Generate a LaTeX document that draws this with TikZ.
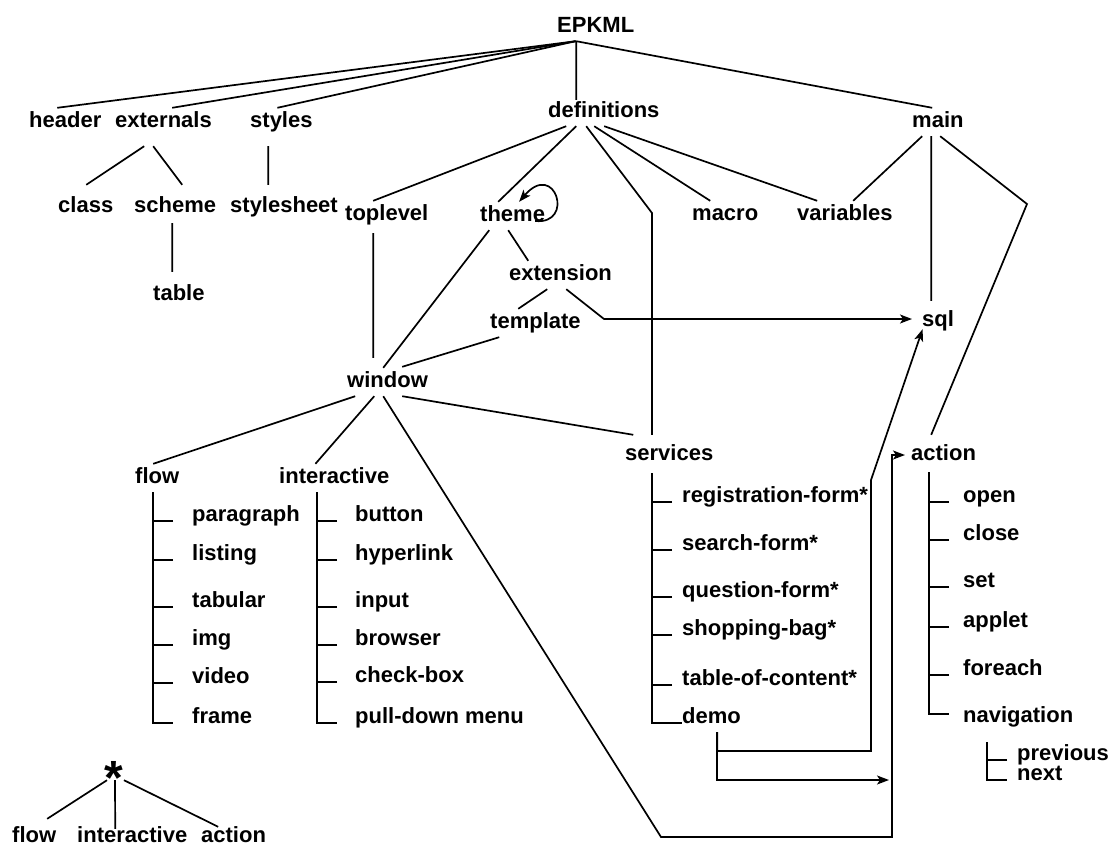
\documentclass[tikz,border=0pt]{standalone}
\usepackage{fontspec}
\setmainfont{Liberation Sans}
\usetikzlibrary{arrows.meta,calc}
\begin{document}
\begin{tikzpicture}[x=1pt,y=-1pt,
  lbl/.style={font=\fontsize{22}{26}\selectfont\bfseries, inner xsep=0pt, inner ysep=3pt, text height=16pt, text depth=6pt, anchor=base west},
  lblB/.style={lbl, text depth=1pt},
  ln/.style={line width=1.7pt},
  arr/.style={ln, -{Stealth[length=12pt,width=9pt,inset=3pt]}},
  starlbl/.style={font=\fontsize{48}{52}\selectfont\bfseries, inner sep=0pt, anchor=base}]
\useasboundingbox (0,0) rectangle (1114,846);

% ---------- nodes ----------
\node[lbl] (epkml) at (557,32) {EPKML};
\node[lbl] (header) at (29,127) {header};
\node[lbl] (externals) at (115,127) {externals};
\node[lbl] (styles) at (250,127) {styles};
\node[lbl] (definitions) at (548,117) {definitions};
\node[lbl] (main) at (912,127) {main};
\node[lbl] (class) at (58,212) {class};
\node[lbl] (scheme) at (134,212) {scheme};
\node[lbl] (stylesheet) at (230,212) {stylesheet};
\node[lbl] (toplevel) at (345,220) {toplevel};
\node[lbl] (theme) at (480,221) {theme};
\node[lbl] (macro) at (692,220) {macro};
\node[lbl] (variables) at (797,220) {variables};
\node[lbl] (table) at (153,300) {table};
\node[lbl] (extension) at (509,280) {extension};
\node[lbl] (template) at (490,328) {template};
\node[lbl] (sql) at (922,326) {sql};
\node[lbl] (window) at (347,387) {window};
\node[lbl] (flow) at (135,483) {flow};
\node[lbl] (interactive) at (279,483) {interactive};
\node[lbl] (services) at (625,460) {services};
\node[lbl] (action) at (911,460) {action};

% flow children
\node[lbl] (paragraph) at (192,521) {paragraph};
\node[lbl] (listing) at (192,560) {listing};
\node[lbl] (tabular) at (192,607) {tabular};
\node[lbl] (img) at (192,645) {img};
\node[lbl] (video) at (192,683) {video};
\node[lbl] (frame) at (192,723) {frame};
% interactive children
\node[lbl] (button) at (355,521) {button};
\node[lbl] (hyperlink) at (355,560) {hyperlink};
\node[lbl] (input) at (355,607) {input};
\node[lbl] (browser) at (355,645) {browser};
\node[lbl] (checkbox) at (355,682) {check-box};
\node[lbl] (pulldown) at (355,723) {pull-down menu};
% services children
\node[lbl] (reg) at (682,502) {registration-form*};
\node[lbl] (search) at (682,550) {search-form*};
\node[lbl] (question) at (682,597) {question-form*};
\node[lbl] (shopping) at (682,635) {shopping-bag*};
\node[lbl] (toc) at (682,685) {table-of-content*};
\node[lbl] (demo) at (682,723) {demo};
% action children
\node[lbl] (open) at (963,502) {open};
\node[lbl] (close) at (963,540) {close};
\node[lbl] (set) at (963,587) {set};
\node[lbl] (applet) at (963,627) {applet};
\node[lbl] (foreach) at (963,675) {foreach};
\node[lbl] (navigation) at (963,722) {navigation};
\node[lbl] (previous) at (1017,760) {previous};
\node[lbl] (next) at (1017,780) {next};
% legend
\node[starlbl] (star) at (114,794) {*};
\node[lblB] (flowB) at (12,842) {flow};
\node[lblB] (interB) at (77,842) {interactive};
\node[lblB] (actionB) at (201,842) {action};

% ---------- bend points ----------
\coordinate (bendS) at (652,213);
\coordinate (bendA) at (1027,204);
\coordinate (bendE) at (604,319);
\coordinate (bendW) at (661,837);
\coordinate (bendW2) at (892,837);
\coordinate (bendD1) at (871,751);
\coordinate (bendD2) at (871,480);
\coordinate (bendD3) at (889,780);

% ---------- connectors ----------
\draw[ln] ([xshift=-20pt]epkml.south) -- ([xshift=-8pt]header.north);
\draw[ln] ([xshift=-20pt]epkml.south) -- ([xshift=8.7pt]externals.north);
\draw[ln] ([xshift=-20pt]epkml.south) -- ([xshift=-4pt]styles.north);
\draw[ln] ([xshift=-19.5pt]epkml.south) -- ([xshift=-27.6pt,yshift=-2pt]definitions.north);
\draw[ln] ([xshift=-19.5pt]epkml.south) -- ([xshift=-5.7pt]main.north);

\draw[ln] ([xshift=-19.3pt,yshift=-10pt]externals.south) -- ([xshift=0.5pt,yshift=8pt]class.north);
\draw[ln] ([xshift=-10.3pt,yshift=-10pt]externals.south) -- ([xshift=7pt,yshift=8pt]scheme.north);
\draw[ln] ([xshift=-13.2pt,yshift=-10pt]styles.south) -- ([xshift=-15.8pt,yshift=8pt]stylesheet.north);
\draw[ln] ([xshift=-3pt,yshift=-2pt]scheme.south) -- ([xshift=-6.7pt,yshift=9pt]table.north);

\draw[ln] ([xshift=-37.6pt]definitions.south) -- ([xshift=-13.6pt]toplevel.north);
\draw[ln] ([xshift=-27.6pt]definitions.south) -- ([xshift=-14.4pt]theme.north);
\draw[ln] ([xshift=-17.6pt]definitions.south) -- (bendS) -- ($(bendS |- services.north)+(0,-6)$);
\draw[ln] ([xshift=-9.6pt]definitions.south) -- ([xshift=-15pt]macro.north);
\draw[ln] ([xshift=0.4pt]definitions.south) -- ([xshift=-27.7pt]variables.north);

\draw[ln] ([xshift=-15.7pt]main.south) -- ([xshift=8.3pt]variables.north);
\draw[ln] ([xshift=-6.7pt]main.south) -- ([xshift=-6.9pt,yshift=6pt]sql.north);
\draw[ln] ([xshift=2.3pt]main.south) -- (bendA) -- ([xshift=-12.4pt,yshift=6pt]action.north);

\draw[arr] ([xshift=-10pt]theme.base east) .. controls +(40,4) and +(36,-42) .. ([xshift=6.5pt]theme.north);
\draw[ln] ([xshift=-4.4pt]theme.south) -- ([xshift=-32.3pt]extension.north);
\draw[ln] ([xshift=-23.4pt]theme.south) -- ([xshift=-4.3pt]window.north);
\draw[ln] ([xshift=-13.6pt,yshift=-4pt]toplevel.south) -- ([xshift=-14.3pt,yshift=10pt]window.north);
\draw[ln] ([xshift=-13.3pt]extension.south) -- ([xshift=-17.2pt]template.north);
\draw[arr, shorten >=10pt] ([xshift=5.7pt]extension.south) -- (bendE) -- (bendE -| sql.west);
\draw[ln] ([xshift=-36.2pt]template.south) -- ([xshift=14.7pt,yshift=1pt]window.north);

\draw[ln] ([xshift=-32.3pt]window.south) -- ([xshift=-4pt]flow.north);
\draw[ln] ([xshift=-13.3pt]window.south) -- ([xshift=-18.8pt]interactive.north);
\draw[ln] ([xshift=14.7pt]window.south) -- ([xshift=-36pt,yshift=6pt]services.north);
\draw[arr, shorten >=6pt] ([xshift=-4.3pt]window.south) -- (bendW) -- (bendW2) |- (action.west);

\draw[arr] ([xshift=5.7pt]demo.south) |- (bendD1) -- (bendD2) -- ([xshift=-15.5pt,yshift=6pt]sql.south);
\draw[arr] ([xshift=5.7pt]demo.south) |- (bendD3);

% flow list
\draw[ln] ([xshift=-4pt]flow.south) |- ([xshift=-19pt]frame.base west);
\foreach \c in {paragraph,listing,tabular,img,video}
  \draw[ln] ([xshift=-19pt]\c.base west) -- ++(-20,0);
% interactive list
\draw[ln] ([xshift=-17pt]interactive.south) |- ([xshift=-18pt]pulldown.base west);
\foreach \c in {button,hyperlink,input,browser,checkbox}
  \draw[ln] ([xshift=-18pt]\c.base west) -- ++(-20,0);
% services list
\draw[ln] ([xshift=-17pt,yshift=-4pt]services.south) |- (demo.base west);
\foreach \c in {reg,search,question,shopping,toc}
  \draw[ln] ([xshift=-10pt]\c.base west) -- ++(-20,0);
% action list
\draw[ln] ([xshift=-14.4pt,yshift=-3pt]action.south) |- ([xshift=-14pt,yshift=8pt]navigation.base west);
\foreach \c in {open,close,set,applet,foreach}
  \draw[ln] ([xshift=-14pt]\c.base west) -- ++(-20,0);
% navigation list
\draw[ln] ([xshift=-31pt,yshift=-11pt]navigation.south) |- ([xshift=-10pt]next.base west);
\draw[ln] ([xshift=-10pt]previous.base west) -- ++(-20,0);

% legend
\draw[ln] ([xshift=-7pt,yshift=14pt]star.south) -- ([xshift=13pt,yshift=4pt]flowB.north);
\draw[ln] ([xshift=1pt,yshift=14pt]star.south) -- ([xshift=-17pt,yshift=-6pt]interB.north);
\draw[ln] ([xshift=10pt,yshift=14pt]star.south) -- ([xshift=-15.4pt,yshift=-4pt]actionB.north);
\end{tikzpicture}
\end{document}
